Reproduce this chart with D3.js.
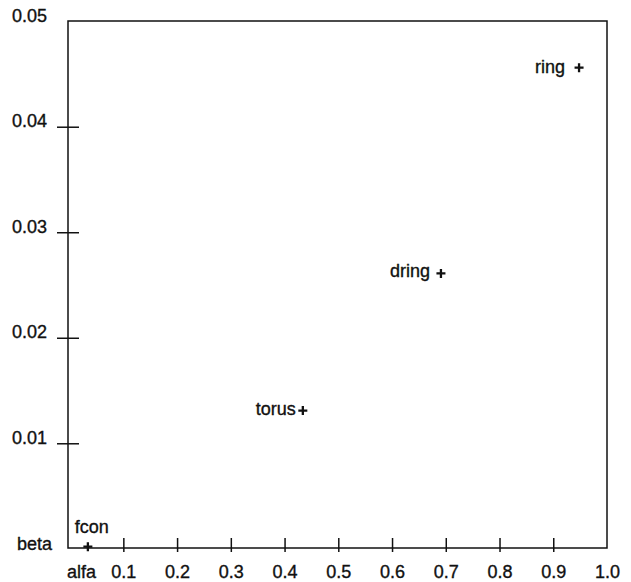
<!DOCTYPE html>
<html>
<head>
<meta charset="utf-8">
<script src="https://cdn.jsdelivr.net/npm/d3@7"></script>
<style>
  html, body { margin: 0; padding: 0; background: #fff; }
  svg text { font-family: "Liberation Sans", Arial, Helvetica, sans-serif; fill: #111; stroke: #111; stroke-width: 0.35px; }
</style>
</head>
<body>
<svg id="chart" width="631" height="582"></svg>
<script>
// ---- data ----
const names = ["fcon", "torus", "dring", "ring"];
const alfa  = [0.034, 0.434, 0.691, 0.948];
const beta  = [0.0002, 0.0131, 0.0261, 0.0456];
const xTickValues = [0.1, 0.2, 0.3, 0.4, 0.5, 0.6, 0.7, 0.8, 0.9, 1.0];
const yTickValues = [0.01, 0.02, 0.03, 0.04, 0.05];
const xAxisName = "alfa";
const yAxisName = "beta";

// ---- layout ----
const svg = d3.select("#chart");
const M = { left: 68, right: 607, top: 21, bottom: 548 };
const x = d3.scaleLinear().domain([0, 1]).range([69.6, 607]);
const y = d3.scaleLinear().domain([0, 0.05]).range([548.8, 21.2]);

const ink = "#111";
const fs = 18;

// frame
svg.append("rect")
  .attr("x", M.left).attr("y", M.top)
  .attr("width", M.right - M.left).attr("height", M.bottom - M.top)
  .attr("fill", "none").attr("stroke", ink).attr("stroke-width", 1.5);

// x ticks (crossing the bottom axis)
const xAxis = d3.axisBottom(x).tickValues(xTickValues).tickSize(0).tickFormat(d3.format(".1f"));
const gx = svg.append("g").attr("transform", `translate(0,${M.bottom})`).call(xAxis);
gx.select(".domain").remove();
gx.selectAll(".tick line").remove();
gx.selectAll(".tick").filter(d => d < 1)
  .append("line").attr("y1", -10).attr("y2", 4).attr("stroke", ink).attr("stroke-width", 1.5);
gx.selectAll(".tick text")
  .attr("y", 30).attr("dy", null)
  .attr("font-size", fs).attr("fill", ink)
  .attr("font-family", "Liberation Sans, Arial, sans-serif");

// y ticks (crossing the left axis)
const yAxis = d3.axisLeft(y).tickValues(yTickValues).tickSize(0).tickFormat(d3.format(".2f"));
const gy = svg.append("g").attr("transform", `translate(${M.left},0)`).call(yAxis);
gy.select(".domain").remove();
gy.selectAll(".tick line").remove();
gy.selectAll(".tick").filter(d => d < 0.05)
  .append("line").attr("x1", -11).attr("x2", 11).attr("stroke", ink).attr("stroke-width", 1.5);
gy.selectAll(".tick text")
  .attr("x", -21).attr("dy", null).attr("y", 0)
  .attr("font-size", fs).attr("fill", ink)
  .attr("text-anchor", "end")
  .attr("font-family", "Liberation Sans, Arial, sans-serif");

// axis names
svg.append("text").attr("x", 67).attr("y", 578)
  .attr("font-size", fs).text(xAxisName);
svg.append("text").attr("x", 52).attr("y", 549.5)
  .attr("text-anchor", "end").attr("font-size", fs).text(yAxisName);

// points
const pts = names.map((n, i) => ({ name: n, a: alfa[i], b: beta[i] }));
const g = svg.append("g");
const arm = 4.5;
pts.forEach(p => {
  const px = x(p.a), py = y(p.b);
  g.append("path")
    .attr("d", `M${px - arm},${py}H${px + arm}M${px},${py - arm}V${py + arm}`)
    .attr("stroke", ink).attr("stroke-width", 2.3).attr("fill", "none");
  const t = g.append("text").attr("font-size", fs).text(p.name);
  if (p.name === "fcon") {
    t.attr("x", px + 4).attr("y", py - 14).attr("text-anchor", "middle");
  } else if (p.name === "torus") {
    t.attr("x", px - 7).attr("y", py + 4).attr("text-anchor", "end");
  } else if (p.name === "dring") {
    t.attr("x", px - 11).attr("y", py + 4).attr("text-anchor", "end");
  } else {
    t.attr("x", px - 14).attr("y", py + 5).attr("text-anchor", "end");
  }
});
</script>
</body>
</html>
